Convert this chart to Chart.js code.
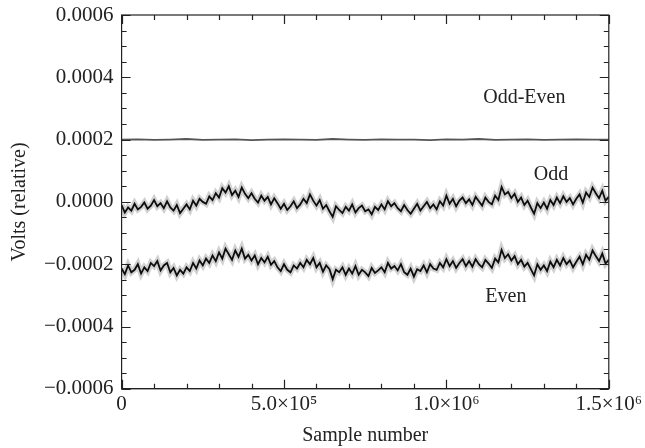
<!DOCTYPE html>
<html lang="en">
<head>
<meta charset="UTF-8">
<title>Odd / Even sample voltages</title>
<script src="https://cdn.jsdelivr.net/npm/chart.js"></script>
<style>
  body { margin: 0; background: #fff; }
</style>
</head>
<body>
<canvas id="voltChart" width="645" height="448"></canvas>
<script>
// sample spacing for the odd/even traces and the difference trace
const sampleStep = 10000;
const diffStep = 50000;

// values in microvolts (relative)
const oddUV = [
  -10,-34,-18,-28,-6,-24,-16,-2,-22,-12,
  6,-14,-4,-20,2,-18,-28,-10,-36,-22,
  -8,-24,4,-12,10,0,-6,18,6,28,
  14,44,30,50,22,36,16,46,26,12,
  28,10,-2,20,4,16,-8,12,-4,-22,
  -6,-26,-14,2,-20,-8,10,-4,24,4,
  -12,6,-22,-10,-30,-48,-14,-26,-36,-16,
  -28,-8,-34,-20,-12,-30,-24,-40,-16,-26,
  -8,-24,2,-14,-4,-20,-30,-10,-26,-38,
  -22,-6,-28,-14,0,-20,-8,-24,2,-12,
  20,-6,10,-14,4,14,-4,8,-10,16,
  2,-12,14,0,-8,20,6,48,24,32,
  12,26,0,14,-10,4,-18,-38,-4,-20,
  -2,-22,6,-10,14,-4,18,0,12,-8,
  10,24,-2,30,16,46,28,12,36,4,16
];
const evenUV = [
  -214,-232,-204,-226,-218,-200,-230,-210,-222,-196,
  -206,-190,-220,-204,-196,-226,-212,-236,-218,-230,
  -210,-222,-196,-214,-188,-204,-182,-196,-172,-190,
  -162,-182,-150,-168,-186,-156,-176,-150,-182,-170,
  -188,-172,-200,-180,-194,-176,-202,-190,-210,-222,
  -200,-218,-226,-204,-214,-196,-210,-186,-200,-180,
  -210,-196,-224,-204,-216,-248,-218,-226,-210,-234,
  -214,-230,-206,-234,-218,-226,-238,-212,-228,-220,
  -210,-226,-196,-214,-206,-220,-200,-226,-234,-214,
  -240,-216,-222,-204,-226,-200,-214,-218,-196,-210,
  -184,-206,-190,-212,-196,-184,-206,-190,-208,-184,
  -200,-210,-186,-198,-212,-182,-194,-154,-180,-168,
  -188,-174,-200,-186,-208,-196,-216,-236,-200,-218,
  -204,-222,-192,-210,-186,-204,-180,-200,-188,-210,
  -192,-176,-200,-170,-186,-156,-174,-190,-166,-198,-186
];
const oddEvenUV = [
  200,201,199,200,202,199,200,201,198,200,
  201,200,199,202,200,199,201,200,200,198,
  201,200,202,199,200,201,199,200,201,200,200
];

const xTickLabels = ['0', '5.0\u00d710\u2075', '1.0\u00d710\u2076', '1.5\u00d710\u2076'];

const labels = [
  { text: 'Odd-Even', x: 1.24e6, y: 0.000334 },
  { text: 'Odd', x: 1.322e6, y: 0.0000867 },
  { text: 'Even', x: 1.183e6, y: -0.000305 }
];

function toPoints(arr, step) {
  return arr.map((v, i) => ({ x: i * step, y: v * 1e-6 }));
}

const serif = "'Liberation Serif', 'Times New Roman', serif";

// inward ticks on all four sides + full frame + curve labels
const framePlugin = {
  id: 'frame',
  afterDraw(chart) {
    const { ctx, chartArea: a, scales } = chart;
    const xs = scales.x, ys = scales.y;
    ctx.save();
    ctx.strokeStyle = '#222';
    ctx.lineWidth = 1.2;
    ctx.strokeRect(a.left, a.top, a.right - a.left, a.bottom - a.top);
    ctx.beginPath();
    for (let v = 0; v <= 1.5e6 + 1; v += 1e5) {
      const p = Math.round(xs.getPixelForValue(v)) + 0.5;
      const len = (Math.round(v / 1e5) % 5 === 0) ? 9 : 5;
      ctx.moveTo(p, a.bottom); ctx.lineTo(p, a.bottom - len);
      ctx.moveTo(p, a.top); ctx.lineTo(p, a.top + len);
    }
    for (let k = -12; k <= 12; k++) {
      const p = Math.round(ys.getPixelForValue(k * 0.00005)) + 0.5;
      const len = (k % 4 === 0) ? 9 : 5;
      ctx.moveTo(a.left, p); ctx.lineTo(a.left + len, p);
      ctx.moveTo(a.right, p); ctx.lineTo(a.right - len, p);
    }
    ctx.stroke();

    ctx.fillStyle = '#222';
    ctx.font = '20px ' + serif;
    ctx.textAlign = 'center';
    ctx.textBaseline = 'middle';
    labels.forEach(l => {
      ctx.fillText(l.text, xs.getPixelForValue(l.x), ys.getPixelForValue(l.y));
    });
    ctx.restore();
  }
};

const ctx = document.getElementById('voltChart').getContext('2d');
new Chart(ctx, {
  type: 'line',
  data: {
    datasets: [
      { data: toPoints(oddUV, sampleStep), borderColor: 'rgba(0,0,0,0.18)', borderWidth: 6 },
      { data: toPoints(evenUV, sampleStep), borderColor: 'rgba(0,0,0,0.18)', borderWidth: 6 },
      { data: toPoints(oddUV, sampleStep), borderColor: '#111', borderWidth: 1.8 },
      { data: toPoints(evenUV, sampleStep), borderColor: '#111', borderWidth: 1.8 },
      { data: toPoints(oddEvenUV, diffStep), borderColor: '#555', borderWidth: 1.8 }
    ]
  },
  options: {
    responsive: false,
    animation: false,
    layout: { padding: { top: 15, left: 8, right: 0, bottom: 0 } },
    elements: { point: { radius: 0 }, line: { tension: 0 } },
    plugins: { legend: { display: false }, tooltip: { enabled: false } },
    scales: {
      x: {
        type: 'linear',
        min: 0,
        max: 1.5e6,
        grid: { drawOnChartArea: false, drawTicks: false },
        border: { color: '#222' },
        ticks: {
          stepSize: 5e5,
          maxRotation: 0,
          padding: 3,
          color: '#222',
          font: { family: serif, size: 21 },
          callback: v => xTickLabels[Math.round(v / 5e5)]
        },
        title: {
          display: true,
          text: 'Sample number',
          color: '#222',
          font: { family: serif, size: 20 },
          padding: { top: 4, bottom: 0 }
        }
      },
      y: {
        min: -0.0006,
        max: 0.0006,
        afterFit: s => { s.paddingTop = 0; s.paddingBottom = 0; },
        grid: { drawOnChartArea: false, drawTicks: false },
        border: { color: '#222' },
        ticks: {
          stepSize: 0.0002,
          padding: 8,
          color: '#222',
          font: { family: serif, size: 21 },
          callback: v => {
            const s = Math.abs(v).toFixed(4);
            return v < -1e-9 ? '\u2212' + s : s;
          }
        },
        title: {
          display: true,
          text: 'Volts (relative)',
          color: '#222',
          font: { family: serif, size: 20 },
          padding: { top: 0, bottom: 4 }
        }
      }
    }
  },
  plugins: [framePlugin]
});
</script>
</body>
</html>
